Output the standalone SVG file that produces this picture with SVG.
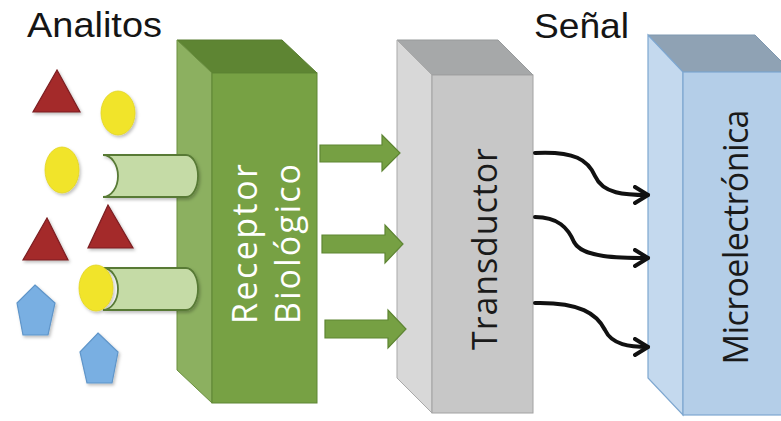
<svg xmlns="http://www.w3.org/2000/svg" width="781" height="421" viewBox="0 0 781 421">
  <defs>
    <style>
      .title { font-family: "Liberation Sans", Arial, sans-serif; font-size: 35px; fill: #151515; }
      .lbl { font-family: "Open Sans", "Liberation Sans", sans-serif; font-size: 34px; text-anchor: middle; }
      .tri { fill: #a4292b; stroke: #7b1e20; stroke-width: 1.2; }
      .ell { fill: #f1e42c; stroke: #e2d420; stroke-width: 0.8; }
      .pent { fill: #79afe2; stroke: #5f95c9; stroke-width: 1.2; }
      .cyl { fill: #c5dba6; stroke: #587a36; stroke-width: 1.8; }
      .garrow { fill: #76a043; stroke: #5e8533; stroke-width: 1.2; }
      .wave { fill: none; stroke: #111; stroke-width: 4; stroke-linecap: round; marker-end: url(#open); }
    </style>
    <marker id="open" viewBox="0 0 18 20" refX="15" refY="10" markerWidth="18" markerHeight="20" markerUnits="userSpaceOnUse" orient="auto">
      <path d="M2,2 L15,10 L2,18" fill="none" stroke="#111" stroke-width="4" stroke-linecap="round" stroke-linejoin="round"/>
    </marker>
    <filter id="sh" x="-20%" y="-20%" width="140%" height="140%">
      <feDropShadow dx="1.5" dy="2" stdDeviation="1.5" flood-color="#000" flood-opacity="0.25"/>
    </filter>
  </defs>
  <rect width="781" height="421" fill="#ffffff"/>

  <text class="title" x="27" y="37" textLength="135" lengthAdjust="spacingAndGlyphs">Analitos</text>
  <text class="title" x="534" y="38" textLength="95" lengthAdjust="spacingAndGlyphs">Señal</text>

  <g id="analitos" filter="url(#sh)">
    <polygon class="tri" points="57,70 33,112 80,112"/>
    <ellipse class="ell" cx="118" cy="113" rx="17" ry="22"/>
    <ellipse class="ell" cx="62" cy="170" rx="17" ry="23"/>
    <polygon class="tri" points="47,218 23,260 68,260"/>
    <polygon class="tri" points="108,205 88,248 133,248"/>
    <polygon class="pent" points="35,285 55,303 48,335 23,335 17,303"/>
    <polygon class="pent" points="98,333 118,352 112,383 87,383 80,352"/>
  </g>

  <g id="receptor">
    <polygon points="177,40 282,40 317,73 212,73" fill="#5e8533" stroke="#587d30" stroke-width="1"/>
    <polygon points="177,40 212,73 212,403 177,370" fill="#8cb060" stroke="#6a8f3f" stroke-width="1"/>
    <rect x="212" y="73" width="105" height="330" fill="#77a144" stroke="#5f8634" stroke-width="1"/>
    <g filter="url(#sh)">
      <path class="cyl" d="M103,155 L186,155 A12,21 0 0 1 186,197 L103,197 A15,21 0 0 0 103,155 Z"/>
      <path class="cyl" d="M103,268 L186,268 A12,21 0 0 1 186,310 L103,310 A15,21 0 0 0 103,268 Z"/>
      <ellipse class="ell" cx="96" cy="288" rx="17" ry="23"/>
    </g>
    <text class="lbl" fill="#ffffff" transform="translate(257,244) rotate(-90)" textLength="160">Receptor</text>
    <text class="lbl" fill="#ffffff" transform="translate(300,244) rotate(-90)" textLength="160">Biológico</text>
  </g>

  <g id="transductor">
    <polygon points="397,40 498,40 533,75 432,75" fill="#a6a8a9" stroke="#979a9b" stroke-width="1"/>
    <polygon points="397,40 432,75 432,413 397,378" fill="#d8d8d8" stroke="#a9a9a9" stroke-width="1"/>
    <rect x="432" y="75" width="101" height="338" fill="#c7c7c7" stroke="#a2a2a2" stroke-width="1"/>
    <text class="lbl" fill="#1a1a1a" transform="translate(497,249) rotate(-90)" textLength="202">Transductor</text>
  </g>

  <g id="microelectronica">
    <polygon points="648,35 755,35 792,72 683,72" fill="#8fa2b4" stroke="#7f98b0" stroke-width="1"/>
    <polygon points="648,35 683,72 683,415 648,378" fill="#c4d9ee" stroke="#7ea7d0" stroke-width="1.2"/>
    <rect x="683" y="72" width="110" height="343" fill="#b4cee8" stroke="#7ea7d0" stroke-width="1.2"/>
    <text class="lbl" fill="#1a1a1a" font-size="31" transform="translate(748,237) rotate(-90)" textLength="255">Microelectrónica</text>
  </g>

  <g id="connectors">
    <polygon class="garrow" points="320,145 382,145 382,135 400,153 382,171 382,162 320,162"/>
    <polygon class="garrow" points="322,235 385,235 385,225 403,244 385,263 385,253 322,253"/>
    <polygon class="garrow" points="325,320 388,320 388,310 406,329 388,348 388,338 325,338"/>
    <path class="wave" d="M535,153 C575,151 588,160 595,176 C603,194 625,195 648,195"/>
    <path class="wave" d="M535,217 C558,217 568,228 574,242 C582,258 620,258 648,258"/>
    <path class="wave" d="M535,303 C580,302 597,314 605,330 C612,345 630,347 648,347"/>
  </g>
</svg>
